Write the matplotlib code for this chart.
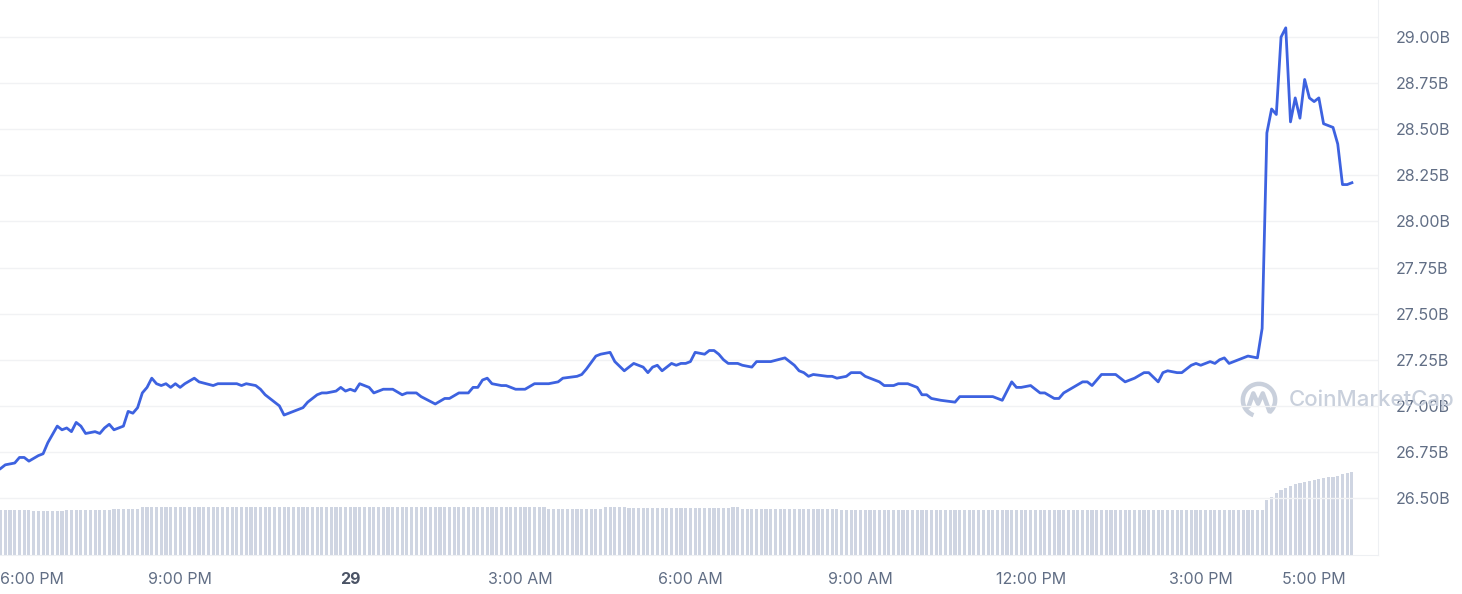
import matplotlib
matplotlib.use("Agg")
import matplotlib.pyplot as plt
import numpy as np
from matplotlib.patches import Arc

# price (market cap, billions) — minutes after 6:00 PM
price_t = [
    -10, -5, 5, 10, 15, 20, 30, 35, 40, 50, 55, 60, 65, 70, 75, 80, 90, 95, 100, 105, 110,
    120, 125, 130, 135, 140, 145, 150, 155, 160, 165, 170, 175, 180, 185, 195, 200, 215, 220,
    235, 240, 245, 250, 260, 265, 270, 280, 285, 290, 300, 310, 315, 325, 330, 335, 345, 350,
    355, 360, 365, 370, 380, 385, 395, 405, 415, 420, 430, 435, 450, 460, 465, 475, 485, 490,
    495, 500, 505, 510, 520, 525, 535, 545, 555, 570, 580, 585, 600, 605, 610, 620, 625, 635,
    640, 650, 660, 670, 675, 680, 685, 690, 695, 700, 705, 710, 715, 720, 725, 735, 740, 745,
    750, 755, 760, 765, 770, 775, 785, 790, 800, 805, 820, 830, 835, 840, 845, 850, 865, 870,
    875, 885, 890, 900, 905, 920, 925, 935, 940, 950, 960, 965, 970, 975, 985, 1000, 1005,
    1015, 1020, 1030, 1035, 1040, 1045, 1050, 1060, 1065, 1070, 1080, 1090, 1095, 1105, 1110,
    1115, 1125, 1135, 1140, 1145, 1155, 1160, 1170, 1180, 1190, 1200, 1205, 1215, 1220, 1225,
    1235, 1240, 1250, 1255, 1260, 1270, 1275, 1280, 1285, 1290, 1300, 1310, 1320, 1325, 1330,
    1335, 1340, 1345, 1350, 1355, 1360, 1365, 1370, 1375, 1380, 1385, 1390, 1395, 1400, 1405,
    1410, 1415, 1420,
]
price_v = [
    26.66, 26.68, 26.69, 26.72, 26.72, 26.70, 26.73, 26.74, 26.80, 26.89, 26.87, 26.88, 26.86,
    26.91, 26.89, 26.85, 26.86, 26.85, 26.88, 26.90, 26.87,
    26.89, 26.97, 26.96, 26.99, 27.07, 27.10, 27.15, 27.12, 27.11, 27.12, 27.10, 27.12, 27.10,
    27.12, 27.15, 27.13, 27.11, 27.12,
    27.12, 27.12, 27.11, 27.12, 27.11, 27.09, 27.06, 27.02, 27.00, 26.95, 26.97, 26.99, 27.02,
    27.06, 27.07, 27.07, 27.08, 27.10,
    27.08, 27.09, 27.08, 27.12, 27.10, 27.07, 27.09, 27.09, 27.06, 27.07, 27.07, 27.05, 27.01,
    27.04, 27.04, 27.07, 27.07, 27.10,
    27.10, 27.14, 27.15, 27.12, 27.11, 27.11, 27.09, 27.09, 27.12, 27.12, 27.13, 27.15, 27.16,
    27.17, 27.20, 27.27, 27.28, 27.29,
    27.24, 27.19, 27.23, 27.21, 27.18, 27.21, 27.22, 27.19, 27.21, 27.23, 27.22, 27.23, 27.23,
    27.24, 27.29, 27.28, 27.30, 27.30,
    27.28, 27.25, 27.23, 27.23, 27.23, 27.22, 27.21, 27.24, 27.24, 27.24, 27.26, 27.22, 27.19,
    27.18, 27.16, 27.17, 27.16, 27.16,
    27.15, 27.16, 27.18, 27.18, 27.16, 27.13, 27.11, 27.11, 27.12, 27.12, 27.10, 27.06, 27.06,
    27.04, 27.03, 27.02, 27.05,
    27.05, 27.05, 27.05, 27.05, 27.05, 27.04, 27.03, 27.13, 27.10, 27.10, 27.11, 27.07, 27.07,
    27.04, 27.04,
    27.07, 27.10, 27.13, 27.13, 27.11, 27.17, 27.17, 27.17, 27.13, 27.15, 27.18, 27.18, 27.13,
    27.18, 27.19,
    27.18, 27.18, 27.22, 27.23, 27.22, 27.24, 27.23, 27.25, 27.26, 27.23, 27.25, 27.27, 27.26,
    27.42, 28.48,
    28.61, 28.58, 29.00, 29.05, 28.54, 28.67, 28.56, 28.77, 28.67, 28.65, 28.67, 28.53, 28.52,
    28.51, 28.42,
    28.20, 28.20, 28.21,
]

# volume bars (billions) every 5 minutes from -10 to 1420
vol = [
    0.90, 0.90,
    0.90, 0.90, 0.90, 0.90, 0.90, 0.88, 0.88, 0.88, 0.88, 0.88, 0.88, 0.88,  # 6 PM
    0.90, 0.90, 0.90, 0.90, 0.90, 0.90, 0.90, 0.90, 0.90, 0.90, 0.92, 0.92,  # 7 PM
    0.93, 0.93, 0.93, 0.93, 0.96, 0.96, 0.96, 0.96, 0.96, 0.96, 0.97, 0.97,  # 8 PM
    0.97, 0.97, 0.97, 0.97, 0.97, 0.97, 0.97, 0.97, 0.97, 0.97, 0.97, 0.97,  # 9 PM
    0.97, 0.97, 0.97, 0.97, 0.97, 0.97, 0.97, 0.97, 0.97, 0.97, 0.97, 0.97,  # 10 PM
    0.97, 0.97, 0.97, 0.97, 0.97, 0.97, 0.97, 0.97, 0.97, 0.97, 0.97, 0.97,  # 11 PM
    0.97, 0.97, 0.97, 0.97, 0.97, 0.97, 0.97, 0.97, 0.97, 0.97, 0.97, 0.97,  # 12 AM
    0.97, 0.97, 0.97, 0.97, 0.97, 0.97, 0.97, 0.97, 0.97, 0.97, 0.97, 0.97,  # 1 AM
    0.97, 0.97, 0.97, 0.97, 0.97, 0.97, 0.97, 0.97, 0.97, 0.97, 0.97, 0.97,  # 2 AM
    0.97, 0.97, 0.97, 0.97, 0.97, 0.97, 0.93, 0.93, 0.93, 0.93, 0.93, 0.93,  # 3 AM
    0.93, 0.93, 0.93, 0.93, 0.93, 0.93, 0.96, 0.96, 0.96, 0.96, 0.96, 0.95,  # 4 AM
    0.95, 0.95, 0.95, 0.95, 0.95, 0.95, 0.95, 0.95, 0.95, 0.95, 0.95, 0.95,  # 5 AM
    0.95, 0.95, 0.95, 0.95, 0.95, 0.95, 0.95, 0.95, 0.95, 0.96, 0.96, 0.93,  # 6 AM
    0.93, 0.93, 0.93, 0.93, 0.93, 0.93, 0.93, 0.93, 0.93, 0.93, 0.93, 0.93,  # 7 AM
    0.93, 0.93, 0.93, 0.93, 0.93, 0.93, 0.93, 0.93, 0.91, 0.91, 0.91, 0.91,  # 8 AM
    0.91, 0.91, 0.91, 0.91, 0.91, 0.91, 0.91, 0.91, 0.91, 0.91, 0.91, 0.91,  # 9 AM
    0.91, 0.91, 0.91, 0.91, 0.91, 0.91, 0.91, 0.91, 0.91, 0.91, 0.91, 0.91,  # 10 AM
    0.91, 0.91, 0.91, 0.91, 0.91, 0.91, 0.91, 0.91, 0.91, 0.91, 0.91, 0.91,  # 11 AM
    0.91, 0.91, 0.91, 0.91, 0.91, 0.91, 0.91, 0.91, 0.91, 0.91, 0.91, 0.91,  # 12 PM
    0.91, 0.91, 0.91, 0.91, 0.91, 0.91, 0.91, 0.91, 0.91, 0.91, 0.91, 0.91,  # 1 PM
    0.91, 0.91, 0.91, 0.91, 0.91, 0.91, 0.91, 0.91, 0.91, 0.91, 0.91, 0.91,  # 2 PM
    0.90, 0.90, 0.90, 0.90, 0.90, 0.90, 0.90, 0.90, 0.90, 0.90, 0.90, 0.90,  # 3 PM
    0.90, 0.90, 1.10, 1.16, 1.24, 1.30, 1.34, 1.38, 1.42, 1.45, 1.47, 1.49,  # 4 PM
    1.51, 1.52, 1.54, 1.56, 1.57, 1.59, 1.62, 1.64, 1.66,                    # 5 PM
]
vol_t = np.arange(-10, -10 + 5 * len(vol), 5)

tick_pos = [0, 180, 360, 540, 720, 900, 1080, 1260, 1380]
tick_labels = ["6:00 PM", "9:00 PM", "29", "3:00 AM", "6:00 AM", "9:00 AM", "12:00 PM", "3:00 PM", "5:00 PM"]
y_ticks = [26.50, 26.75, 27.00, 27.25, 27.50, 27.75, 28.00, 28.25, 28.50, 28.75, 29.00]

plt.rcParams["font.family"] = ["Inter", "DejaVu Sans"]
grey = "#616e85"
wm = "#c9d0dc"

fig = plt.figure(figsize=(14.62, 5.94), dpi=100)
ax = fig.add_axes([0, 39 / 594, 1378 / 1462, 555 / 594])
ax2 = ax.twinx()

# volume on the back axis
ax2.bar(vol_t, vol, width=3.3, color="#cfd5e2", zorder=1)
ax2.set_ylim(0, max(vol) / 0.1495)
ax2.set_yticks([])
ax.set_zorder(ax2.get_zorder() + 1)
ax.patch.set_visible(False)

ax.plot(price_t, price_v, color="#3d62e0", lw=2.0, solid_joinstyle="round", zorder=3)

ax.set_xlim(-10.6, 1447.6)
ax.set_ylim(26.191, 29.201)
ax.set_yticks(y_ticks)
ax.set_yticklabels([f"{v:.2f}B" for v in y_ticks])
ax.yaxis.tick_right()
ax.grid(axis="y", color="#f1f2f4", lw=1)
ax.set_axisbelow(True)
ax.tick_params(axis="y", length=0, pad=13, labelsize=11.5, labelcolor=grey)
ax.tick_params(axis="x", length=0, pad=12, labelsize=11.5, labelcolor=grey)
for lbl in ax.get_yticklabels():
    lbl.set_horizontalalignment("left")

ax.set_xticks(tick_pos)
ax.set_xticklabels(tick_labels)
xl = ax.get_xticklabels()
xl[2].set_fontweight("bold")
xl[2].set_color("#4a5365")
xl[0].set_horizontalalignment("left")
xl[0].set_transform(xl[0].get_transform() + matplotlib.transforms.ScaledTranslation(-10 / 100, 0, fig.dpi_scale_trans))

for a in (ax, ax2):
    for s in a.spines.values():
        s.set_visible(False)
ax.spines["right"].set_visible(True)
ax.spines["right"].set_color("#eef0f3")
ax.spines["bottom"].set_visible(True)
ax.spines["bottom"].set_color("#eef0f3")

# watermark
fig.text(1289 / 1462, 1 - 400 / 594, "CoinMarketCap", fontsize=16, color=wm,
         va="center", ha="left", fontweight="medium", zorder=10)
lax = fig.add_axes([1240 / 1462, 1 - 419 / 594, 38 / 1462, 38 / 594])
lax.set_xlim(-1, 1)
lax.set_ylim(-1, 1)
lax.set_aspect("equal")
lax.axis("off")
lax.add_patch(Arc((0, 0), 1.7, 1.7, theta1=-50, theta2=250, ec=wm, lw=3.2))
lax.plot([-0.55, -0.3, -0.05, 0.2, 0.35, 0.55], [-0.35, 0.35, -0.2, 0.35, -0.05, -0.6],
         color=wm, lw=3.2, solid_joinstyle="round", solid_capstyle="round")

fig.savefig("out.png", dpi=100)
